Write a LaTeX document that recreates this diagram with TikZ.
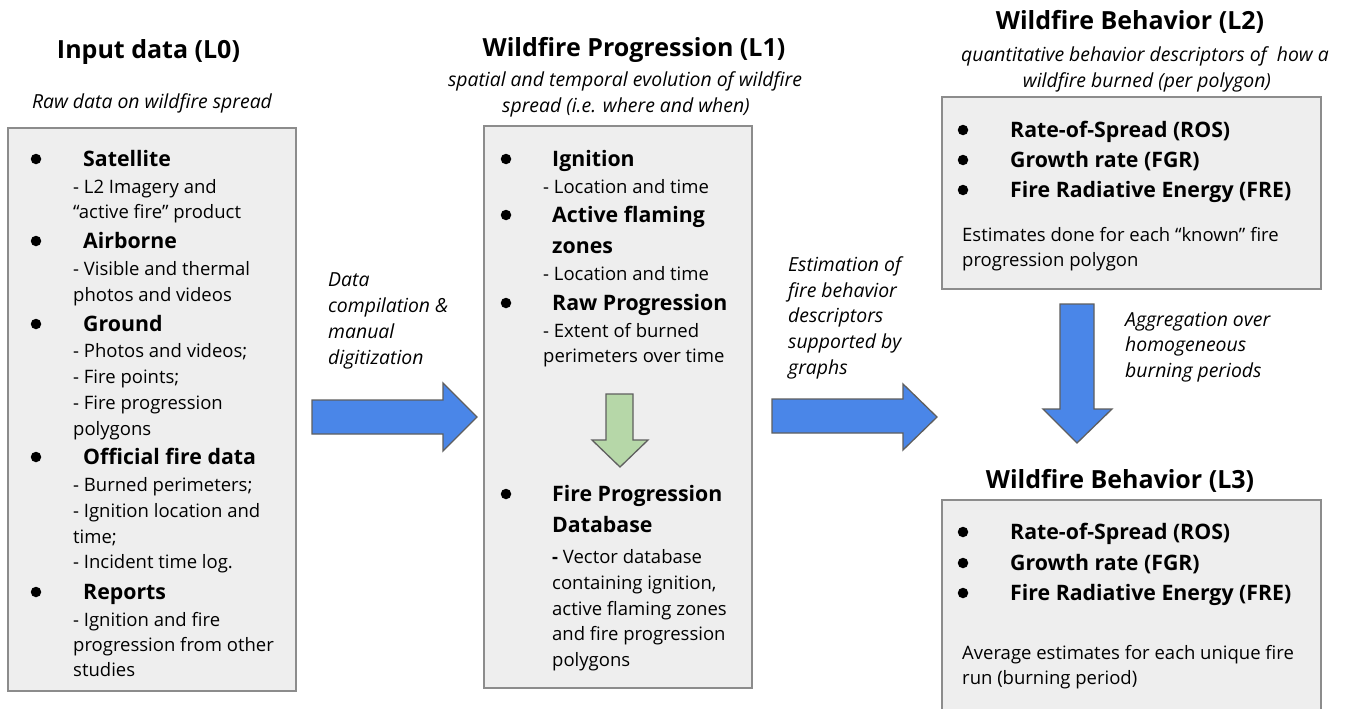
\documentclass[tikz,border=0pt]{standalone}
\usepackage{fontspec}
\setmainfont{Open Sans}
\definecolor{boxfill}{HTML}{EEEEEE}
\definecolor{boxline}{HTML}{8C8C8C}
\definecolor{arrblue}{HTML}{4A86E8}
\definecolor{arrgreen}{HTML}{B6D7A8}
\definecolor{arrline}{HTML}{5F5F5F}
\tikzset{
  body/.style={anchor=base west, inner sep=0pt, font=\fontsize{18.5}{22}\selectfont},
  head/.style={anchor=base west, inner sep=0pt, font=\fontsize{21.3}{26}\selectfont\bfseries},
  ttl/.style={anchor=base, inner sep=0pt, font=\fontsize{25}{30}\selectfont\bfseries},
  subt/.style={anchor=base, inner sep=0pt, font=\fontsize{19.4}{23}\selectfont\itshape},
  lab/.style={anchor=base west, inner sep=0pt, font=\fontsize{19.4}{23}\selectfont\itshape},
  bul/.style={circle, fill=black, inner sep=0pt, minimum size=10.5pt},
  panel/.style={fill=boxfill, draw=boxline, line width=1.6pt},
  bigarrow/.style={fill=arrblue, draw=arrline, line width=1.3pt, line join=miter},
  greenarrow/.style={fill=arrgreen, draw=arrline, line width=1.3pt, line join=miter}
}
\begin{document}
\begin{tikzpicture}[x=1pt,y=-1pt]
\useasboundingbox[fill=white] (0,0) rectangle (1347,709);

% panels
\draw[panel] (8,128) rectangle (296,691);
\draw[panel] (484,126) rectangle (752,688);
\draw[panel] (942,97) rectangle (1321,289);
\draw[panel] (942,500) rectangle (1321,725);

% titles
\node[ttl] (t0) at (148.5,59) {Input data (L0)};
\node[subt] (s0) at (152,108) {Raw data on wildfire spread};
\node[ttl] (t1) at (634,57) {Wildfire Progression (L1)};
\node[subt] (s1a) at (625,87) {spatial and temporal evolution of wildfire};
\node[subt] (s1b) at (626,112) {spread (i.e. where and when)};
\node[ttl] (t2) at (1130,30) {Wildfire Behavior (L2)};
\node[subt] (s2a) at (1145,62) {quantitative behavior descriptors of \ how a};
\node[subt] (s2b) at (1147,88) {wildfire burned (per polygon)};
\node[ttl] (t3) at (1120,488) {Wildfire Behavior (L3)};

% left panel
\foreach \n/\y in {a/159,b/241,c/324,d/457,e/592}{\node[bul] (lb\n) at (36,\y) {};}
\node[head] (a1) at (83,166.5) {Satellite};
\node[body] (a2) at (73,193.5) {- L2 Imagery and};
\node[body] (a3) at (73,218.5) {“active fire” product};
\node[head] (a4) at (83,248.5) {Airborne};
\node[body] (a5) at (73,275.5) {- Visible and thermal};
\node[body] (a6) at (73,301.5) {photos and videos};
\node[head] (a7) at (83,331.5) {Ground};
\node[body] (a8) at (73,357.5) {- Photos and videos;};
\node[body] (a9) at (73,383.5) {- Fire points;};
\node[body] (a10) at (73,409.5) {- Fire progression};
\node[body] (a11) at (73,435.5) {polygons};
\node[head] (a12) at (83,464.5) {Official fire data};
\node[body] (a13) at (73,491.5) {- Burned perimeters;};
\node[body] (a14) at (73,517.5) {- Ignition location and};
\node[body] (a15) at (73,543.5) {time;};
\node[body] (a16) at (73,568.5) {- Incident time log.};
\node[head] (a17) at (83,599.5) {Reports};
\node[body] (a18) at (73,626.5) {- Ignition and fire};
\node[body] (a19) at (73,651.5) {progression from other};
\node[body] (a20) at (73,676.5) {studies};

% middle panel
\foreach \n/\y in {a/159,b/215,c/303,d/494}{\node[bul] (mb\n) at (506,\y) {};}
\node[head] (b1) at (552,166.5) {Ignition};
\node[body] (b2) at (543,193.5) {- Location and time};
\node[head] (b3) at (552,222.5) {Active flaming};
\node[head] (b4) at (552,253.5) {zones};
\node[body] (b5) at (543,280.5) {- Location and time};
\node[head] (b6) at (552,310.5) {Raw Progression};
\node[body] (b7) at (543,337.5) {- Extent of burned};
\node[body] (b8) at (543,362.5) {perimeters over time};
\node[head] (b9) at (552,501.5) {Fire Progression};
\node[head] (b10) at (552,532) {Database};
\node[body] (b11) at (552,563.5) {\textbf{-} Vector database};
\node[body] (b12) at (552,589) {containing ignition,};
\node[body] (b13) at (552,615) {active flaming zones};
\node[body] (b14) at (552,640) {and fire progression};
\node[body] (b15) at (552,666) {polygons};

% right top panel
\foreach \n/\y in {a/130,b/160,c/190}{\node[bul] (rb\n) at (963,\y) {};}
\node[head] (c1) at (1010,137.5) {Rate-of-Spread (ROS)};
\node[head] (c2) at (1010,167.5) {Growth rate (FGR)};
\node[head] (c3) at (1010,197.5) {Fire Radiative Energy (FRE)};
\node[body] (c4) at (962,241) {Estimates done for each “known” fire};
\node[body] (c5) at (962,266) {progression polygon};

% right bottom panel
\foreach \n/\y in {a/532,b/563,c/593}{\node[bul] (qb\n) at (963,\y) {};}
\node[head] (d1) at (1010,539.5) {Rate-of-Spread (ROS)};
\node[head] (d2) at (1010,570.5) {Growth rate (FGR)};
\node[head] (d3) at (1010,600.5) {Fire Radiative Energy (FRE)};
\node[body] (d4) at (962,659) {Average estimates for each unique fire};
\node[body] (d5) at (962,684) {run (burning period)};

% labels
\node[lab] (e1) at (328,286) {Data};
\node[lab] (e2) at (328,312.5) {compilation \&};
\node[lab] (e3) at (328,338.5) {manual};
\node[lab] (e4) at (328,364.5) {digitization};
\node[lab] (f1) at (788,271) {Estimation of};
\node[lab] (f2) at (788,297) {fire behavior};
\node[lab] (f3) at (788,322) {descriptors};
\node[lab] (f4) at (788,348) {supported by};
\node[lab] (f5) at (788,374) {graphs};
\node[lab] (g1) at (1125,326) {Aggregation over};
\node[lab] (g2) at (1125,351) {homogeneous};
\node[lab] (g3) at (1125,377) {burning periods};

% block arrows
\draw[bigarrow] (312,400) -- (443,400) -- (443,383) -- (477,417) -- (443,451) -- (443,434) -- (312,434) -- cycle;
\draw[bigarrow] (772,399) -- (903,399) -- (903,384) -- (937,417) -- (903,450) -- (903,433) -- (772,433) -- cycle;
\draw[bigarrow] (1060,304) -- (1094,304) -- (1094,409) -- (1112,409) -- (1077,443) -- (1043,409) -- (1060,409) -- cycle;
\draw[greenarrow] (606,394) -- (633,394) -- (633,440) -- (648,440) -- (620,467) -- (592,440) -- (606,440) -- cycle;
\end{tikzpicture}
\end{document}
